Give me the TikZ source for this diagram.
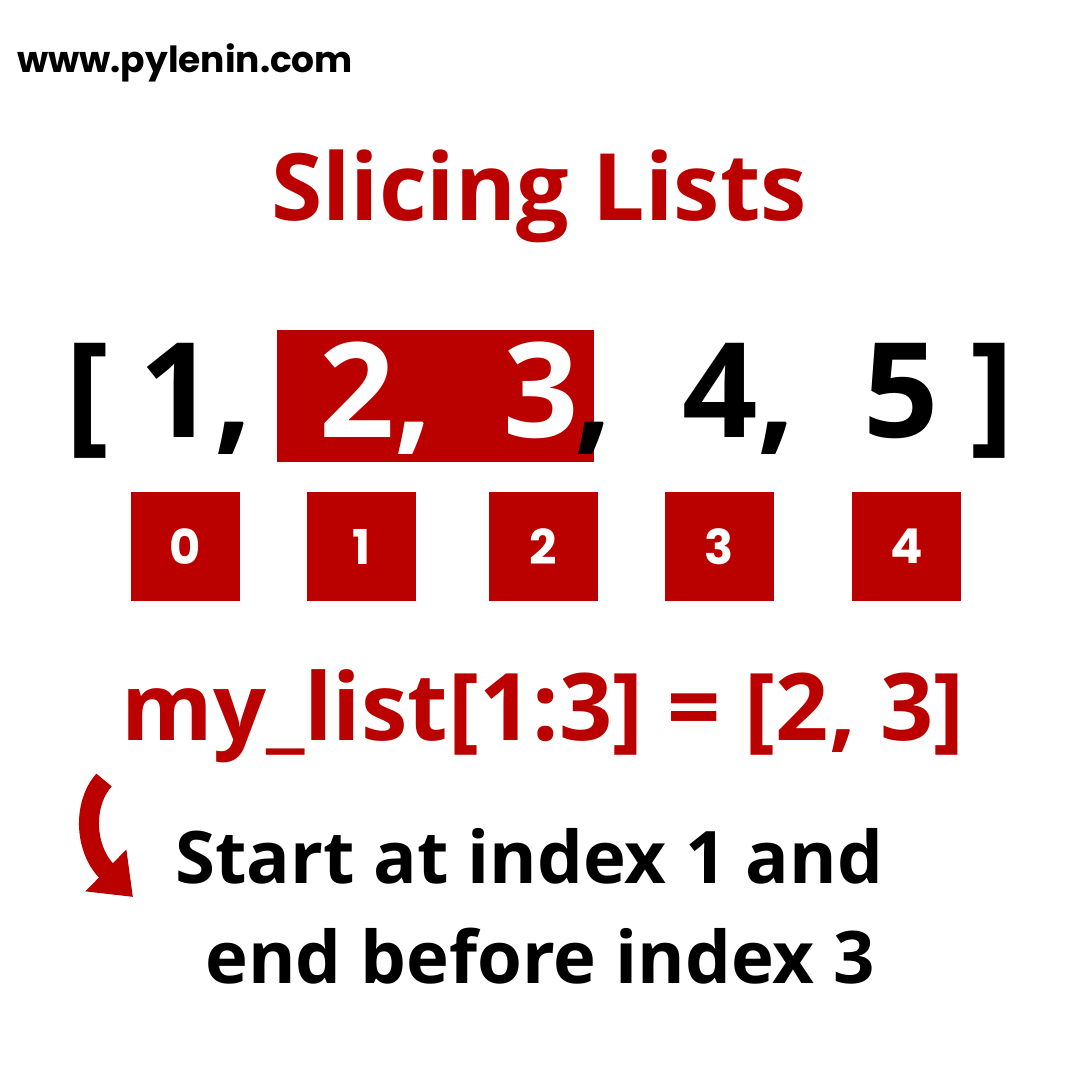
\documentclass[tikz,border=0pt]{standalone}
\usepackage{fontspec}
\setmainfont{Open Sans}
\newfontfamily\webfont{Poppins}
\usetikzlibrary{arrows.meta,positioning}
\definecolor{slicered}{RGB}{187,0,0}

\begin{document}
\begin{tikzpicture}[x=1pt, y=-1pt,
        big/.style={inner sep=0pt, anchor=base, font=\fontsize{132}{132}\selectfont\bfseries},
        idx/.style={fill=slicered, minimum size=109pt, inner sep=0pt, text=white, font=\webfont\fontsize{48}{48}\selectfont\bfseries},
        arr/.style={-{Triangle[length=38pt, width=56pt]}, line width=20pt, slicered}
      ]
        \path[use as bounding box, fill=white] (0,0) rectangle (1080,1080);
        \node[inner sep=0pt, anchor=base west, font=\webfont\fontsize{36}{36}\selectfont\bfseries] (web) at (17,72) {www.pylenin.com};
        \node[inner sep=0pt, anchor=base, text=slicered, font=\fontsize{93}{93}\selectfont\bfseries] (title) at (539,220) {Slicing Lists};
        % the list, with the slice 2, 3 on red
        \node[fill=slicered, minimum width=317pt, minimum height=132pt, inner sep=0pt] (hl) at (435.5,396) {};
        \node[big] (lb) at (87,437) {[};
        \node[big] (n1) at (196,437) {1,};
        \node[big, text=white] (n2) at (376,437) {2,};
        \node[big, text=white] (n3) at (541,437) {3};
        \node[big] (c3) at (594,437) {,};
        \node[big] (n4) at (739,437) {4,};
        \node[big] (n5) at (901,437) {5};
        \node[big] (rb) at (992,437) {]};
        % index boxes
        \node[idx] (i0) at (185.5,546.5) {0};
        \node[idx] (i1) at (361.5,546.5) {1};
        \node[idx] (i2) at (543.5,546.5) {2};
        \node[idx] (i3) at (719.5,546.5) {3};
        \node[idx] (i4) at (906.5,546.5) {4};
        \node[inner sep=0pt, anchor=base, text=slicered, font=\fontsize{93.3}{93.3}\selectfont\bfseries] (code) at (543,740) {my\_list[1:3] = [2, 3]};
        \node[inner sep=0pt, anchor=base, font=\fontsize{72.5}{72.5}\selectfont\bfseries] (note1) at (529,883) {Start at index 1 and};
        \node[inner sep=0pt, anchor=base, font=\fontsize{72.5}{72.5}\selectfont\bfseries] (note2) at (540,983) {end before index 3};
        \coordinate (tail) at (104,780);
        \coordinate (tip) at (133,897);
        \draw[arr] (tail) .. controls (82,805) and (85,850) .. (tip);
      \end{tikzpicture}
\end{document}
